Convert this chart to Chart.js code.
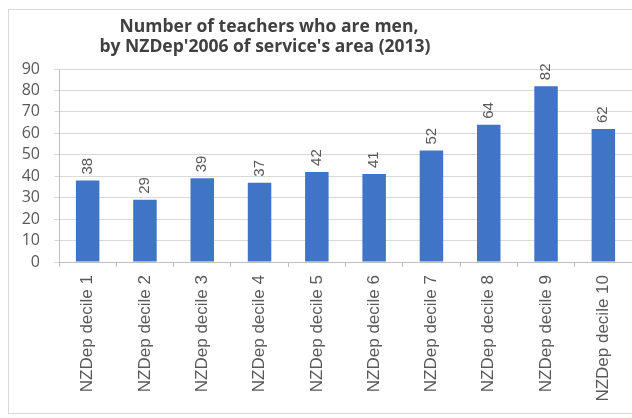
<!DOCTYPE html>
<html>
<head>
<meta charset="utf-8">
<script src="https://cdn.jsdelivr.net/npm/chart.js@4.4.1/dist/chart.umd.min.js"></script>
<style>
    body { margin: 0; background: #fff; }
    #wrap { position: relative; width: 632px; height: 418px; }
</style>
</head>
<body>
<div id="wrap"><canvas id="chart" width="632" height="418"></canvas></div>
<script>
// chart data
const categories = ['NZDep decile 1', 'NZDep decile 2', 'NZDep decile 3', 'NZDep decile 4', 'NZDep decile 5',
    'NZDep decile 6', 'NZDep decile 7', 'NZDep decile 8', 'NZDep decile 9', 'NZDep decile 10'];
const teachersMen = [38, 29, 39, 37, 42, 41, 52, 64, 82, 62];
const yTicks = [0, 10, 20, 30, 40, 50, 60, 70, 80, 90];
const titleLines = ['Number of teachers who are men,', "by NZDep'2006 of service's area (2013)"];

const greyText = '#595959';

// frame + title drawn on the canvas
const framePlugin = {
    id: 'frame',
    beforeDraw(chart) {
        const ctx = chart.ctx;
        ctx.save();
        ctx.fillStyle = '#fff';
        ctx.fillRect(0, 0, chart.width, chart.height);
        ctx.strokeStyle = '#d9d9d9';
        ctx.lineWidth = 1;
        ctx.strokeRect(8.5, 9.5, 640, 404);
        ctx.restore();
    },
    afterDraw(chart) {
        const ctx = chart.ctx;
        ctx.save();
        ctx.fillStyle = '#404040';
        ctx.font = 'bold 17.5px "Open Sans"';
        ctx.textAlign = 'center';
        ctx.textBaseline = 'middle';
        ctx.fillText(titleLines[0], 269, 27);
        ctx.fillText(titleLines[1], 265, 47);
        ctx.restore();
    }
};

// value labels, rotated, above each bar
const valueLabels = {
    id: 'valueLabels',
    afterDatasetsDraw(chart) {
        const ctx = chart.ctx;
        const meta = chart.getDatasetMeta(0);
        ctx.save();
        ctx.fillStyle = greyText;
        ctx.font = '15px "Liberation Sans"';
        ctx.textAlign = 'left';
        ctx.textBaseline = 'middle';
        meta.data.forEach((bar, i) => {
            ctx.save();
            ctx.translate(bar.x, bar.y - 6);
            ctx.rotate(-Math.PI / 2);
            ctx.fillText(String(teachersMen[i]), 0, 0);
            ctx.restore();
        });
        ctx.restore();
    }
};

new Chart(document.getElementById('chart'), {
    type: 'bar',
    data: {
        labels: categories,
        datasets: [{
            data: teachersMen,
            backgroundColor: '#3f74c6',
            borderWidth: 0,
            categoryPercentage: 1,
            barPercentage: 0.41
        }]
    },
    options: {
        responsive: false,
        devicePixelRatio: 1,
        animation: false,
        layout: { padding: { left: 8, right: 0, top: 69, bottom: 8 } },
        plugins: {
            legend: { display: false },
            title: { display: false },
            tooltip: { enabled: false }
        },
        scales: {
            x: {
                afterFit(scale) { scale.height = 148; },
                grid: {
                    offset: true,
                    drawOnChartArea: false,
                    drawTicks: true,
                    tickLength: 5,
                    color: '#bfbfbf'
                },
                border: { color: '#bfbfbf' },
                ticks: {
                    color: greyText,
                    font: { family: '"Liberation Sans"', size: 17 },
                    maxRotation: 90,
                    minRotation: 90,
                    padding: 8,
                    autoSkip: false
                }
            },
            y: {
                min: 0,
                max: 90,
                afterFit(scale) { scale.width = 51; },
                afterBuildTicks(scale) { scale.ticks = yTicks.map(v => ({ value: v })); },
                grid: { color: '#d9d9d9', tickLength: 5 },
                border: { color: '#bfbfbf' },
                ticks: {
                    color: greyText,
                    font: { family: '"Open Sans"', size: 16 },
                    padding: 14,
                    autoSkip: false
                }
            }
        }
    },
    plugins: [framePlugin, valueLabels]
});
</script>
</body>
</html>
